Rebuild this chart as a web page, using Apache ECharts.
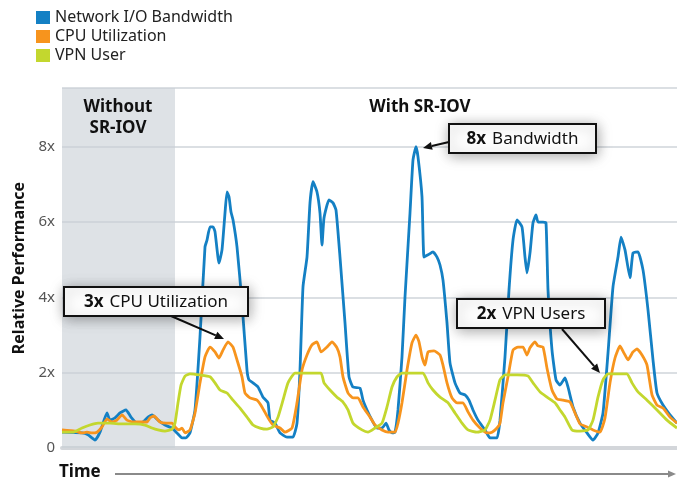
<!DOCTYPE html>
<html>
<head>
<meta charset="utf-8">
<script src="https://cdn.jsdelivr.net/npm/echarts@6/dist/echarts.min.js"></script>
<style>
  html, body { margin: 0; padding: 0; background: #fff; }
  #chart { width: 677px; height: 481px; }
</style>
</head>
<body>
<div id="chart"></div>
<script>
// time runs 0..615, values are relative performance (x)
const seriesNames = ['Network I/O Bandwidth', 'CPU Utilization', 'VPN User']
const colors = ['#1480c4', '#f7941d', '#c3d72e']

const bandwidth = [
  [0,0.42],[20,0.40],[26,0.35],[33,0.21],[38,0.42],[45,0.93],[48,0.74],[53,0.80],[58,0.93],[64,1.01],
  [69,0.82],[75,0.66],[81,0.69],[86,0.82],[90,0.88],[96,0.74],[103,0.61],[110,0.53],[115,0.40],[120,0.27],
  [124,0.27],[128,0.40],[133,1.01],[138,2.95],[143,5.34],[145,5.52],[148,5.87],[151,5.87],[153,5.74],[157,4.91],
  [160,5.26],[163,6.24],[165,6.80],[167,6.67],[169,6.27],[171,6.06],[175,5.34],[180,3.85],[185,2.07],[187,1.81],
  [191,1.73],[196,1.62],[201,1.35],[206,1.20],[208,0.74],[213,0.66],[218,0.40],[225,0.29],[231,0.29],[235,0.66],
  [238,2.07],[241,4.28],[245,5.07],[248,6.51],[251,7.07],[255,6.80],[258,6.24],[260,5.39],[262,6.11],[267,6.59],
  [271,6.51],[274,6.32],[278,5.07],[283,3.32],[287,1.89],[291,1.62],[298,1.59],[301,1.27],[305,1.01],[310,0.74],
  [315,0.53],[320,0.53],[324,0.66],[327,0.48],[330,0.40],[333,0.42],[336,1.01],[340,2.42],[343,4.01],[348,6.24],
  [351,7.65],[354,8.00],[356,7.73],[360,6.67],[362,5.07],[366,5.13],[371,5.21],[375,5.07],[378,4.86],[381,4.46],
  [385,3.32],[388,2.26],[393,1.73],[398,1.46],[403,1.41],[407,1.27],[411,1.01],[416,0.74],[423,0.48],[428,0.27],
  [435,0.27],[438,0.74],[443,2.42],[447,4.20],[451,5.52],[455,6.06],[460,5.87],[463,5.07],[465,4.65],[468,5.18],
  [471,5.98],[474,6.19],[476,6.00],[481,6.00],[484,5.98],[486,4.20],[490,2.60],[494,1.81],[498,1.67],[503,1.86],
  [506,1.62],[511,1.09],[518,0.66],[525,0.40],[531,0.21],[536,0.40],[541,0.93],[546,2.52],[551,4.28],[556,5.07],
  [559,5.60],[563,5.26],[568,4.52],[571,5.18],[576,5.21],[581,4.73],[586,3.67],[591,2.34],[595,1.46],[601,1.14],
  [608,0.88],[615,0.66]
]

const cpu = [
  [0,0.48],[13,0.45],[20,0.40],[25,0.42],[30,0.40],[35,0.42],[40,0.56],[45,0.77],[50,0.69],[55,0.74],
  [60,0.88],[65,0.74],[71,0.69],[78,0.69],[85,0.69],[88,0.80],[92,0.85],[98,0.69],[104,0.66],[110,0.66],
  [114,0.53],[117,0.48],[120,0.53],[123,0.40],[128,0.48],[133,0.93],[138,1.73],[143,2.42],[148,2.68],[153,2.55],
  [157,2.39],[161,2.60],[166,2.82],[171,2.68],[175,2.34],[180,1.89],[183,1.46],[188,1.33],[195,1.27],[200,1.09],
  [206,0.80],[211,0.61],[218,0.53],[223,0.42],[230,0.53],[235,1.20],[240,2.07],[245,2.47],[250,2.74],[255,2.82],
  [259,2.55],[265,2.68],[270,2.82],[275,2.66],[278,2.42],[281,1.89],[286,1.46],[291,1.33],[296,1.33],[301,1.09],
  [308,0.82],[313,0.61],[320,0.48],[326,0.42],[333,0.42],[336,0.66],[340,1.20],[345,2.07],[350,2.79],[354,3.00],
  [357,2.82],[360,2.42],[363,2.20],[366,2.55],[372,2.58],[378,2.47],[381,2.20],[385,1.73],[390,1.33],[395,1.20],
  [401,1.20],[406,0.96],[411,0.74],[418,0.53],[425,0.40],[430,0.42],[435,0.53],[438,0.66],[441,1.20],[446,1.89],
  [451,2.60],[456,2.68],[461,2.68],[465,2.47],[468,2.66],[473,2.82],[476,2.71],[481,2.68],[485,2.12],[490,1.54],
  [495,1.30],[501,1.27],[508,1.22],[513,0.93],[518,0.64],[525,0.56],[531,0.48],[538,0.42],[543,0.80],[548,1.73],
  [553,2.39],[558,2.71],[562,2.52],[566,2.34],[571,2.55],[575,2.63],[580,2.47],[585,2.20],[590,1.41],[595,1.14],
  [601,1.06],[608,0.82],[615,0.66]
]

const vpnUsers = [
  [0,0.42],[11,0.42],[20,0.53],[28,0.61],[36,0.66],[48,0.66],[60,0.64],[73,0.64],[83,0.61],[90,0.53],
  [96,0.48],[103,0.45],[110,0.50],[113,0.66],[116,1.20],[119,1.67],[123,1.91],[128,1.97],[138,1.94],[148,1.89],
  [153,1.73],[158,1.54],[165,1.46],[171,1.27],[178,1.06],[185,0.82],[191,0.61],[198,0.53],[205,0.50],[211,0.56],
  [216,0.82],[221,1.27],[226,1.73],[233,1.99],[245,1.99],[259,1.99],[262,1.73],[268,1.54],[275,1.35],[281,1.22],
  [286,1.01],[291,0.66],[300,0.48],[306,0.42],[313,0.53],[320,0.66],[325,1.09],[330,1.62],[335,1.89],[340,1.99],
  [361,1.99],[366,1.73],[371,1.54],[378,1.35],[386,1.20],[393,0.93],[400,0.66],[406,0.48],[415,0.42],[423,0.48],
  [428,0.74],[433,1.27],[438,1.81],[443,1.94],[455,1.94],[466,1.91],[471,1.73],[478,1.49],[485,1.35],[493,1.20],
  [498,1.01],[503,0.82],[510,0.48],[518,0.45],[526,0.48],[531,0.74],[536,1.35],[541,1.81],[546,1.97],[555,1.97],
  [565,1.97],[570,1.73],[576,1.49],[585,1.27],[595,1.01],[605,0.74],[615,0.53]
]

const withoutSriov = [0, 113] // shaded span on the time axis
const yTicks = [0, 2, 4, 6, 8]

const font = 'Noto Sans'
const TOP = 100 // graphics above the series and the shaded band

function lineSeries(name, data, color, extra) {
  return Object.assign({
    name: name,
    type: 'line',
    data: data,
    showSymbol: false,
    smooth: 0.15,
    lineStyle: { color: color, width: 2.8 },
    itemStyle: { color: color },
    z: 3
  }, extra || {})
}

// boxed callout: rect + text
function callout(x, y, w, h, bold, rest) {
  return {
    type: 'group',
    children: [
      {
        type: 'rect', z: TOP,
        shape: { x: x, y: y, width: w, height: h },
        style: {
          fill: '#fff', stroke: '#111', lineWidth: 2,
          shadowBlur: 14, shadowColor: 'rgba(0,0,0,0.35)', shadowOffsetX: 1, shadowOffsetY: 2
        }
      },
      {
        type: 'text', z: TOP + 1,
        x: x + w / 2, y: y + h / 2 + 1,
        style: {
          text: '{b|' + bold + '}{n|' + rest + '}',
          align: 'center', verticalAlign: 'middle',
          rich: {
            b: { fontFamily: font, fontWeight: 'bold', fontSize: 17, fill: '#111', padding: [0, 6, 0, 0] },
            n: { fontFamily: font, fontSize: 17, fill: '#111' }
          }
        }
      }
    ]
  }
}

function arrow(x1, y1, x2, y2, color, len, half, width) {
  const dx = x2 - x1, dy = y2 - y1
  const d = Math.sqrt(dx * dx + dy * dy)
  const ux = dx / d, uy = dy / d
  const bx = x2 - ux * len, by = y2 - uy * len
  return {
    type: 'group',
    children: [
      { type: 'line', z: TOP, shape: { x1: x1, y1: y1, x2: bx, y2: by }, style: { stroke: color, lineWidth: width } },
      {
        type: 'polygon', z: TOP,
        shape: { points: [[x2, y2], [bx - uy * half, by + ux * half], [bx + uy * half, by - ux * half]] },
        style: { fill: color }
      }
    ]
  }
}

function label(x, y, text, size, align, lineHeight) {
  return {
    type: 'text', x: x, y: y, z: TOP,
    style: {
      text: text, align: align, verticalAlign: 'middle', lineHeight: lineHeight,
      fontFamily: font, fontWeight: 'bold', fontSize: size, fill: '#111'
    }
  }
}

const chart = echarts.init(document.getElementById('chart'))

const option = {
  animation: false,
  textStyle: { fontFamily: font },
  color: colors,
  legend: {
    orient: 'vertical',
    left: 36,
    top: 8,
    padding: 0,
    itemWidth: 14,
    itemHeight: 13,
    itemGap: 0,
    icon: 'rect',
    textStyle: { fontSize: 16, lineHeight: 19, color: '#222', fontFamily: font },
    data: seriesNames
  },
  grid: { left: 62, right: 0, top: 88, bottom: 33 },
  xAxis: {
    type: 'value',
    min: 0,
    max: 615,
    axisLine: { show: true, lineStyle: { color: '#d3d6da', width: 4 } },
    axisTick: { show: false },
    axisLabel: { show: false },
    splitLine: { show: false }
  },
  yAxis: {
    type: 'value',
    min: 0,
    max: 9.56,
    interval: 2,
    name: 'Relative Performance',
    nameLocation: 'middle',
    nameGap: 33,
    nameTextStyle: { fontFamily: font, fontWeight: 'bold', fontSize: 16, color: '#111' },
    axisLine: { show: false },
    axisTick: { show: false },
    axisLabel: {
      margin: 7,
      fontSize: 15,
      color: '#555',
      showMaxLabel: false,
      formatter: function (v) {
        if (yTicks.indexOf(v) < 0) return ''
        return v === 0 ? '0' : v + 'x'
      }
    },
    splitLine: { lineStyle: { color: '#cfd4da', width: 1.5 } }
  },
  series: [
    lineSeries(seriesNames[0], bandwidth, colors[0], {
      markArea: {
        silent: true,
        itemStyle: { color: 'rgba(200,207,213,0.6)' },
        data: [[{ xAxis: withoutSriov[0] }, { xAxis: withoutSriov[1] }]]
      }
    }),
    lineSeries(seriesNames[1], cpu, colors[1]),
    lineSeries(seriesNames[2], vpnUsers, colors[2])
  ],
  graphic: [
    label(118, 118, 'Without\nSR-IOV', 17, 'center', 21),
    label(420, 107, 'With SR-IOV', 17, 'center'),
    label(59, 472, 'Time', 17, 'left'),
    arrow(115, 474, 676, 474, '#8a8a8a', 8, 3.5, 2),
    arrow(171, 316, 224, 339, '#111', 9, 4, 2),
    arrow(449, 142, 423, 148, '#111', 9, 4, 2),
    arrow(562, 329, 600, 373, '#111', 9, 4, 2),
    callout(64, 287, 184, 29, '3x', 'CPU Utilization'),
    callout(449, 124, 147, 29, '8x', 'Bandwidth'),
    callout(457, 299, 148, 29, '2x', 'VPN Users')
  ]
}

chart.setOption(option)
</script>
</body>
</html>
